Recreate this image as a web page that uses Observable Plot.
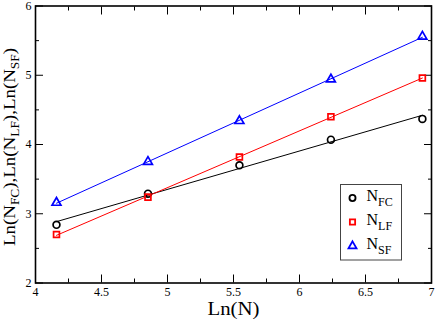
<!DOCTYPE html>
<html><head><meta charset="utf-8">
<script src="https://cdn.jsdelivr.net/npm/d3@7"></script>
<script src="https://cdn.jsdelivr.net/npm/@observablehq/plot@0.6"></script>
<style>body{margin:0;background:#fff}#chart{width:436px;height:319px}</style>
</head><body><div id="chart"></div>
<script>
// x values: Ln(N)
const lnN = [4.159, 4.852, 5.545, 6.238, 6.931];
// y series
const nFC = [2.84, 3.29, 3.70, 4.07, 4.37];
const nLF = [2.70, 3.24, 3.82, 4.40, 4.96];
const nSF = [3.16, 3.75, 4.34, 4.94, 5.56];
const seriesNames = ["FC", "LF", "SF"];
const seriesValues = [nFC, nLF, nSF];
const seriesColors = ["#000000", "#ff0000", "#0000ff"];
const seriesSymbols = ["circle", "square", "triangle"];
const symbolR = {circle: 3.4, square: 3.3, triangle: 3.3};
// ticks
const xMajorTicks = [4, 4.5, 5, 5.5, 6, 6.5, 7];
const xMinorTicks = [4.25, 4.75, 5.25, 5.75, 6.25, 6.75];
const yMajorTicks = [2, 3, 4, 5, 6];
const yMinorTicks = [2.5, 3.5, 4.5, 5.5];

const rows = [];
seriesNames.forEach((s, i) => lnN.forEach((x, j) => rows.push({series: s, x, y: seriesValues[i][j]})));

const marks = [];
seriesNames.forEach((s, i) => {
  const d = rows.filter(r => r.series === s);
  marks.push(Plot.linearRegressionY(d, {x: "x", y: "y", stroke: seriesColors[i], strokeWidth: 1, ci: 0}));
});
seriesNames.forEach((s, i) => {
  const d = rows.filter(r => r.series === s);
  marks.push(Plot.dot(d, {x: "x", y: "y", stroke: seriesColors[i], symbol: seriesSymbols[i], r: symbolR[seriesSymbols[i]], strokeWidth: 1.7, fill: "none"}));
});

const noText = () => "";
const chart = Plot.plot({
  width: 436, height: 319,
  marginLeft: 35, marginRight: 5, marginTop: 5.5, marginBottom: 36.5,
  style: {fontFamily: "'Liberation Serif', 'Times New Roman', serif", fontSize: "12px", background: "#fff", color: "#000", overflow: "visible"},
  x: {domain: [4, 7]},
  y: {domain: [2, 6]},
  marks: [
    // inward major/minor ticks
    Plot.axisX(xMajorTicks, {anchor: "bottom", tickSize: 8, dy: -8, tickFormat: noText, label: null}),
    Plot.axisX(xMinorTicks, {anchor: "bottom", tickSize: 4, dy: -4, tickFormat: noText, label: null}),
    Plot.axisX(xMajorTicks, {anchor: "top", tickSize: 8, dy: 8, tickFormat: noText, label: null}),
    Plot.axisX(xMinorTicks, {anchor: "top", tickSize: 4, dy: 4, tickFormat: noText, label: null}),
    Plot.axisY(yMajorTicks, {anchor: "left", tickSize: 8, dx: 8, tickFormat: noText, label: null}),
    Plot.axisY(yMinorTicks, {anchor: "left", tickSize: 4, dx: 4, tickFormat: noText, label: null}),
    Plot.axisY(yMajorTicks, {anchor: "right", tickSize: 8, dx: -8, tickFormat: noText, label: null}),
    Plot.axisY(yMinorTicks, {anchor: "right", tickSize: 4, dx: -4, tickFormat: noText, label: null}),
    // tick labels
    Plot.axisX(xMajorTicks, {anchor: "bottom", tickSize: 0, tickPadding: 4, label: null, tickFormat: d => String(d)}),
    Plot.axisY(yMajorTicks, {anchor: "left", tickSize: 0, tickPadding: 4, label: null, tickFormat: d => String(d)}),
    ...marks,
    Plot.frame({stroke: "#000", strokeWidth: 1.6})
  ]
});
document.getElementById("chart").appendChild(chart);

const svg = d3.select(chart);
const serif = "'Liberation Serif', 'Times New Roman', serif";

// x label
svg.append("text").attr("x", 233.5).attr("y", 314.5).attr("text-anchor", "middle")
  .attr("font-family", serif).attr("font-size", 18).attr("fill", "#000")
  .attr("textLength", 52).attr("lengthAdjust", "spacingAndGlyphs").text("Ln(N)");

// y label with subscripts
const yl = svg.append("text").attr("transform", "translate(15,147) rotate(-90)")
  .attr("text-anchor", "middle").attr("font-family", serif).attr("font-size", 17).attr("fill", "#000")
  .attr("textLength", 198).attr("lengthAdjust", "spacingAndGlyphs");
seriesNames.forEach((s, i) => {
  yl.append("tspan").text((i ? "," : "") + "Ln(N");
  yl.append("tspan").attr("font-size", 12).attr("dy", 4).text(s);
  yl.append("tspan").attr("dy", -4).text(")");
});

// legend
const lg = svg.append("g").attr("text-anchor", "start");
lg.append("rect").attr("x", 340.5).attr("y", 184.5).attr("width", 61).attr("height", 75.5)
  .attr("fill", "#fff").attr("stroke", "#444").attr("stroke-width", 1);
const legendY = [198, 222, 246];
const d3Symbols = {circle: d3.symbolCircle, square: d3.symbolSquare, triangle: d3.symbolTriangle};
seriesNames.forEach((s, i) => {
  const k = seriesSymbols[i];
  const sym = d3.symbol(d3Symbols[k], Math.PI * (symbolR[k] * 0.9) ** 2);
  lg.append("path").attr("d", sym()).attr("transform", `translate(352.5,${legendY[i]})`)
    .attr("fill", "none").attr("stroke", seriesColors[i]).attr("stroke-width", 1.8);
  const t = lg.append("text").attr("x", 366.5).attr("y", legendY[i] + 3).attr("font-family", serif)
    .attr("font-size", 16).attr("fill", "#000");
  t.append("tspan").text("N");
  t.append("tspan").attr("font-size", 12).attr("dy", 5).text(s);
});
</script>
</body></html>
